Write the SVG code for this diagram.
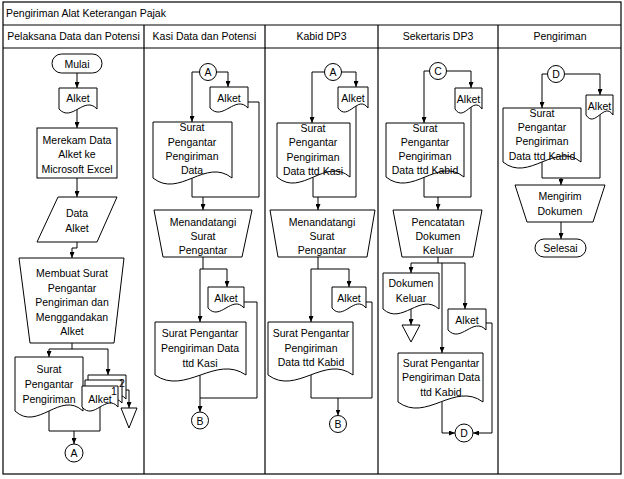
<svg xmlns="http://www.w3.org/2000/svg" width="624" height="479" viewBox="0 0 624 479">
<defs>
<marker id="arr" markerWidth="6" markerHeight="5" refX="6" refY="2.5" orient="auto" markerUnits="userSpaceOnUse"><path d="M0,0 L6,2.5 L0,5 z" fill="#000"/></marker>
<style>
.frame{fill:none;stroke:#000;stroke-width:1.2}
.sh{fill:#fff;stroke:#000;stroke-width:1}
.c{fill:none;stroke:#000;stroke-width:1}
.a{marker-end:url(#arr)}
text{font-family:"Liberation Sans",Arial,sans-serif;font-size:10.5px;fill:#000;text-anchor:middle}
.l{text-anchor:start}
</style>
</defs>
<rect x="0" y="0" width="624" height="479" fill="#fff"/>
<g id="lanes">
<rect class="frame" x="3" y="2" width="618" height="472"/>
<path class="frame" d="M3,25 H621 M3,48 H621 M144,25 V474 M265,25 V474 M378,25 V474 M498,25 V474"/>
<text class="l" x="6" y="17">Pengiriman Alat Keterangan Pajak</text>
<text x="73.5" y="40">Pelaksana Data dan Potensi</text>
<text x="204.5" y="40">Kasi Data dan Potensi</text>
<text x="321.5" y="40">Kabid DP3</text>
<text x="438" y="40">Sekertaris DP3</text>
<text x="560" y="40">Pengiriman</text>
</g>
<g id="connectors">
<path class="c a" d="M77,73 V88"/>
<path class="c a" d="M77,110 V128"/>
<path class="c a" d="M77,178 V197"/>
<path class="c a" d="M77,242 V248 H72 V258"/>
<path class="c a" d="M72,343 V349 H49 V357"/>
<path class="c a" d="M72,349 H108 V375"/>
<path class="c a" d="M126,390 H129 V408"/>
<path class="c" d="M49,411 V431 H100 V407"/>
<path class="c a" d="M74,431 V444"/>
<path class="c a" d="M199.5,72 H192 V122"/>
<path class="c a" d="M216.5,72 H228 V87"/>
<path class="c" d="M248,102 H259 V197 H192 V178"/>
<path class="c a" d="M203,197 V210"/>
<path class="c" d="M203,257 V269"/>
<path class="c a" d="M200,269 H227 V287"/>
<path class="c a" d="M200,269 V322"/>
<path class="c" d="M244,302 H257 V398 H200 V375"/>
<path class="c a" d="M200,398 V412"/>
<path class="c a" d="M324.5,72 H312 V123"/>
<path class="c a" d="M341.5,72 H356 V87"/>
<path class="c" d="M356,106 V197 H313 V177"/>
<path class="c a" d="M318,197 V210"/>
<path class="c" d="M318,257 V269"/>
<path class="c a" d="M311,269 H349 V287"/>
<path class="c a" d="M311,269 V322"/>
<path class="c" d="M366,302 H372 V398 H311 V375"/>
<path class="c a" d="M338,398 V415.5"/>
<path class="c a" d="M429.5,71 H424 V123"/>
<path class="c a" d="M446.5,71 H471 V88"/>
<path class="c" d="M471,107 V197 H424 V177"/>
<path class="c a" d="M438,197 V210"/>
<path class="c" d="M438,257 V263"/>
<path class="c a" d="M411,263 H465 V309"/>
<path class="c a" d="M411,263 V273"/>
<path class="c a" d="M442,263 V353"/>
<path class="c a" d="M411,309 V325"/>
<path class="c a" d="M442,402 V433 H455"/>
<path class="c a" d="M486,323 H492 V433 H473"/>
<path class="c a" d="M547.5,74 H542 V108"/>
<path class="c a" d="M564.5,74 H600 V95"/>
<path class="c" d="M542,162 V178 H600 V114"/>
<path class="c a" d="M561,178 V185"/>
<path class="c a" d="M561,222 V239"/>
</g>
<g id="mulai"><rect class="sh" x="52" y="54" width="50" height="19" rx="9.5"/><text x="77" y="67.5">Mulai</text></g>
<g id="alket1"><path class="sh" d="M59,88 H97 V109 C84.3,95 71.7,123 59,109 Z"/><text x="78" y="102">Alket</text></g>
<g id="merekam"><rect class="sh" x="37" y="128" width="80" height="50"/><text x="77" y="143.5">Merekam Data</text><text x="77" y="158">Alket ke</text><text x="77" y="172.5">Microsoft Excel</text></g>
<g id="data-alket"><path class="sh" d="M58,197 H117 L97,242 H37 Z"/><text x="77" y="217">Data</text><text x="77" y="232">Alket</text></g>
<g id="membuat"><path class="sh" d="M19,258 H124 L114,343 H30 Z"/><text x="72" y="277">Membuat Surat</text><text x="72" y="291.5">Pengantar</text><text x="72" y="306">Pengiriman dan</text><text x="72" y="320.5">Menggandakan</text><text x="72" y="335">Alket</text></g>
<g id="surat1"><path class="sh" d="M15,357 H83 V411 C60.3,390 37.7,432 15,411 Z"/><text x="49" y="373">Surat</text><text x="49" y="388">Pengantar</text><text x="49" y="403">Pengiriman</text></g>
<g id="alket-multi">
<path class="sh" d="M88,375 H126 V399 C113.3,385 100.7,413 88,399 Z"/>
<path class="sh" d="M85,380 H122 V403 C109.7,389 97.3,417 85,403 Z"/>
<path class="sh" d="M82,386 H118 V407 C106,393 94,421 82,407 Z"/>
<text x="100" y="403">Alket</text><text x="122" y="386.5">2</text><text x="114" y="395">1</text>
</g>
<g id="arsip1"><path class="sh" d="M121,408 H137 L129,428 Z"/></g>
<g id="conA1"><circle class="sh" cx="74" cy="453" r="9"/><text x="74" y="457">A</text></g>

<g id="conA2"><circle class="sh" cx="208" cy="72" r="8.5"/><text x="208" y="76">A</text></g>
<g id="alket2"><path class="sh" d="M210,87 H248 V108 C235.3,94 222.7,122 210,108 Z"/><text x="229" y="101.5">Alket</text></g>
<g id="surat2"><path class="sh" d="M153,122 H232 V178 C205.7,157 179.3,199 153,178 Z"/><text x="192" y="131">Surat</text><text x="192" y="145.5">Pengantar</text><text x="192" y="160">Pengiriman</text><text x="192" y="174">Data</text></g>
<g id="menandatangi1"><path class="sh" d="M154,210 H252 L242,257 H163 Z"/><text x="203" y="226">Menandatangi</text><text x="203" y="240">Surat</text><text x="203" y="254">Pengantar</text></g>
<g id="alket3"><path class="sh" d="M208,287 H244 V308 C232,294 220,322 208,308 Z"/><text x="226" y="301.5">Alket</text></g>
<g id="surat3"><path class="sh" d="M155,322 H246 V375 C215.7,354 185.3,396 155,375 Z"/><text x="200" y="337">Surat Pengantar</text><text x="200" y="352">Pengiriman Data</text><text x="200" y="367">ttd Kasi</text></g>
<g id="conB1"><circle class="sh" cx="200" cy="420.5" r="8.5"/><text x="200" y="424.5">B</text></g>

<g id="conA3"><circle class="sh" cx="333" cy="72" r="8.5"/><text x="333" y="76">A</text></g>
<g id="alket4"><path class="sh" d="M338,87 H368 V108 C358,94 348,122 338,108 Z"/><text x="353" y="101.5">Alket</text></g>
<g id="surat4"><path class="sh" d="M277,123 H350 V177 C325.7,156 301.3,198 277,177 Z"/><text x="313" y="132">Surat</text><text x="313" y="146">Pengantar</text><text x="313" y="160.5">Pengiriman</text><text x="313" y="175">Data ttd Kasi</text></g>
<g id="menandatangi2"><path class="sh" d="M270,210 H375 L367,257 H278 Z"/><text x="322" y="226">Menandatangi</text><text x="322" y="240">Surat</text><text x="322" y="254">Pengantar</text></g>
<g id="alket5"><path class="sh" d="M332,287 H366 V308 C354.7,294 343.3,322 332,308 Z"/><text x="349" y="301.5">Alket</text></g>
<g id="surat5"><path class="sh" d="M268,322 H353 V375 C324.7,354 296.3,396 268,375 Z"/><text x="311" y="337">Surat Pengantar</text><text x="311" y="352">Pengiriman</text><text x="311" y="366">Data ttd Kabid</text></g>
<g id="conB2"><circle class="sh" cx="338" cy="424" r="8.5"/><text x="338" y="428">B</text></g>

<g id="conC"><circle class="sh" cx="438" cy="71" r="8.5"/><text x="438" y="75">C</text></g>
<g id="alket6"><path class="sh" d="M455,88 H482 V109 C473,95 464,123 455,109 Z"/><text x="468.5" y="102.5">Alket</text></g>
<g id="surat6"><path class="sh" d="M386,123 H464 V177 C438,156 412,198 386,177 Z"/><text x="425" y="132">Surat</text><text x="425" y="146">Pengantar</text><text x="425" y="160">Pengiriman</text><text x="425" y="174">Data ttd Kabid</text></g>
<g id="pencatatan"><path class="sh" d="M393,210 H482 L473,257 H402 Z"/><text x="438" y="226">Pencatatan</text><text x="438" y="240">Dokumen</text><text x="438" y="254">Keluar</text></g>
<g id="dokumen-keluar"><path class="sh" d="M383,273 H439 V309 C420.3,292 401.7,326 383,309 Z"/><text x="411" y="287">Dokumen</text><text x="411" y="302">Keluar</text></g>
<g id="arsip2"><path class="sh" d="M402,325 H420 L411,342 Z"/></g>
<g id="alket7"><path class="sh" d="M448,309 H486 V330 C473.3,316 460.7,344 448,330 Z"/><text x="467" y="324">Alket</text></g>
<g id="surat7"><path class="sh" d="M398,353 H483 V402 C454.7,381 426.3,423 398,402 Z"/><text x="441" y="367">Surat Pengantar</text><text x="441" y="381">Pengiriman Data</text><text x="441" y="396">ttd Kabid</text></g>
<g id="conD1"><circle class="sh" cx="464" cy="433" r="9"/><text x="464" y="437">D</text></g>

<g id="conD2"><circle class="sh" cx="556" cy="74" r="8.5"/><text x="556" y="78">D</text></g>
<g id="alket8"><path class="sh" d="M586,95 H613 V115 C604,101 595,129 586,115 Z"/><text x="599.5" y="109.5">Alket</text></g>
<g id="surat8"><path class="sh" d="M503,108 H581 V162 C555,141 529,183 503,162 Z"/><text x="542" y="117">Surat</text><text x="542" y="131">Pengantar</text><text x="542" y="145">Pengiriman</text><text x="542" y="159.5">Data ttd Kabid</text></g>
<g id="mengirim"><path class="sh" d="M515,185 H605 L593,222 H527 Z"/><text x="560" y="200">Mengirim</text><text x="560" y="215">Dokumen</text></g>
<g id="selesai"><rect class="sh" x="535" y="239" width="51" height="18" rx="9"/><text x="560.5" y="252">Selesai</text></g>
</svg>
